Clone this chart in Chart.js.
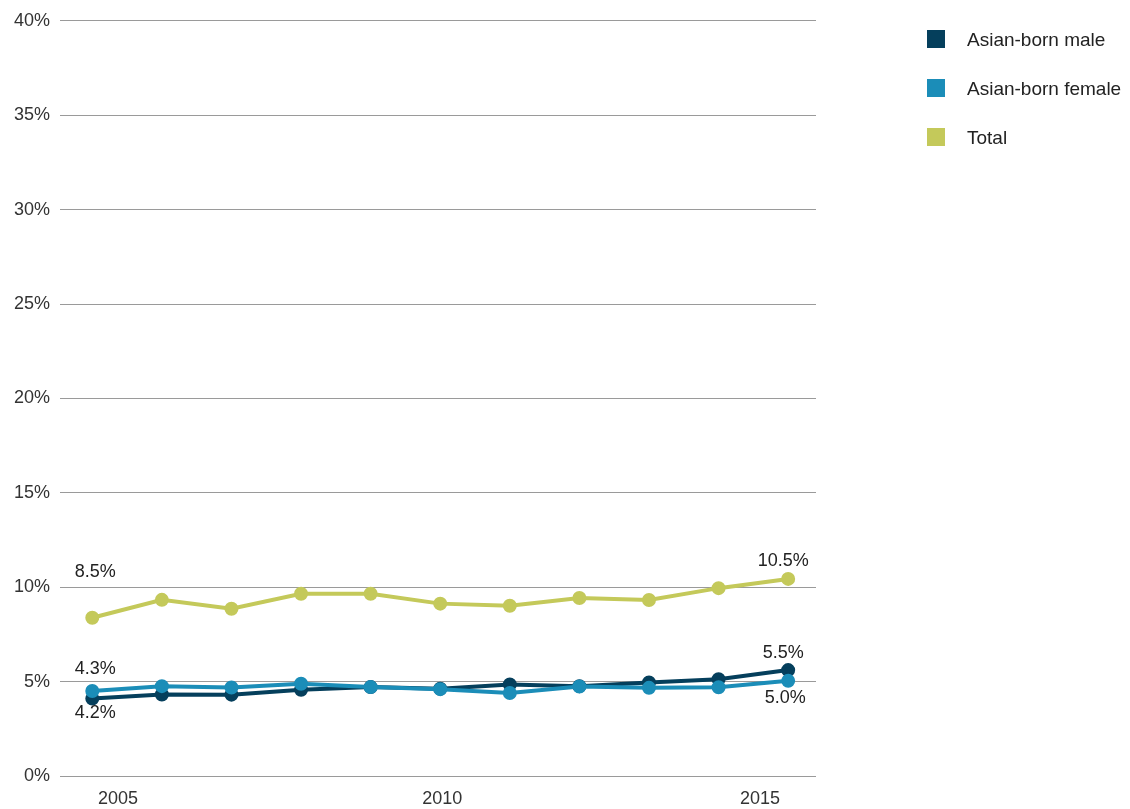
<!DOCTYPE html>
<html>
<head>
<meta charset="utf-8">
<script src="https://cdn.jsdelivr.net/npm/chart.js@4"></script>
<style>
  html, body { margin: 0; padding: 0; background: #fff; }
  #wrap { position: relative; width: 1130px; height: 809px; }
  #legend { position: absolute; left: 927px; top: 30px; font-family: "Liberation Sans", Arial, sans-serif; font-size: 19px; color: #222; }
  #legend div { position: relative; height: 49px; }
  #legend span.box { position: absolute; left: 0; top: 0; width: 18px; height: 18px; }
  #legend span.txt { position: absolute; left: 40px; top: -1px; white-space: nowrap; }
</style>
</head>
<body>
<div id="wrap">
  <canvas id="chart" width="1130" height="809"></canvas>
  <div id="legend"></div>
</div>
<script>
// data
var years = [2005, 2006, 2007, 2008, 2009, 2010, 2011, 2012, 2013, 2014, 2015];
var maleValues = [4.10, 4.32, 4.31, 4.57, 4.71, 4.62, 4.85, 4.76, 4.95, 5.13, 5.61];
var femaleValues = [4.50, 4.76, 4.69, 4.89, 4.71, 4.60, 4.40, 4.74, 4.67, 4.70, 5.04];
var totalValues = [8.38, 9.33, 8.86, 9.65, 9.65, 9.13, 9.02, 9.43, 9.32, 9.95, 10.44];
var seriesNames = ["Asian-born male", "Asian-born female", "Total"];
var xTickLabels = ["2005", "2010", "2015"];
var yTickValues = [0, 5, 10, 15, 20, 25, 30, 35, 40];
// end labels shown at first and last point of each line
var maleEndLabels = ["4.2%", "5.5%"];
var femaleEndLabels = ["4.3%", "5.0%"];
var totalEndLabels = ["8.5%", "10.5%"];

var colors = ["#053f5c", "#1b8db8", "#c4c95a"];
var fontFamily = '"Liberation Sans", Arial, sans-serif';

function toPoints(values) {
  return values.map(function (v, i) { return { x: years[i], y: v }; });
}

function lineDataset(label, values, color, order) {
  return {
    label: label,
    data: toPoints(values),
    borderColor: color,
    backgroundColor: color,
    pointBackgroundColor: color,
    pointBorderColor: color,
    borderWidth: 4,
    pointRadius: 5,
    pointHoverRadius: 5,
    tension: 0,
    order: order,
  };
}

// label placement (pixel offsets from the point)
var endLabelOffsets = [
  [{ dx: 3, dy: 14 }, { dx: -5, dy: -17 }],   // male
  [{ dx: 3, dy: -22 }, { dx: -3, dy: 17 }],   // female
  [{ dx: 3, dy: -46 }, { dx: -5, dy: -18 }],  // total
];
var endLabels = [maleEndLabels, femaleEndLabels, totalEndLabels];

var endLabelPlugin = {
  id: "endLabels",
  afterDatasetsDraw: function (chart) {
    var ctx = chart.ctx;
    ctx.save();
    ctx.font = "18px " + fontFamily;
    ctx.fillStyle = "#222";
    ctx.textAlign = "center";
    ctx.textBaseline = "middle";
    chart.data.datasets.forEach(function (ds, di) {
      var meta = chart.getDatasetMeta(di);
      var pts = [meta.data[0], meta.data[meta.data.length - 1]];
      pts.forEach(function (p, k) {
        var off = endLabelOffsets[di][k];
        ctx.fillText(endLabels[di][k], p.x + off.dx, p.y + off.dy);
      });
    });
    ctx.restore();
  },
};

var ctx = document.getElementById("chart").getContext("2d");
var chart = new Chart(ctx, {
  type: "line",
  data: {
    datasets: [
      lineDataset(seriesNames[0], maleValues, colors[0], 2),
      lineDataset(seriesNames[1], femaleValues, colors[1], 1),
      lineDataset(seriesNames[2], totalValues, colors[2], 3),
    ],
  },
  options: {
    responsive: false,
    animation: false,
    layout: { padding: { top: 19, right: 314, left: 0, bottom: 0 } },
    plugins: {
      legend: { display: false },
      tooltip: { enabled: false },
    },
    scales: {
      x: {
        type: "linear",
        min: 2004.536,
        max: 2015.4,
        grid: { display: false },
        border: { display: false },
        afterBuildTicks: function (scale) {
          // year labels sit slightly inside the first and last points
          scale.ticks = [{ value: 2005.37 }, { value: 2010.03 }, { value: 2014.595 }];
        },
        afterFit: function (scale) { scale.height = 33; },
        ticks: {
          autoSkip: false,
          maxRotation: 0,
          padding: 4,
          color: "#333",
          font: { family: fontFamily, size: 18 },
          callback: function (value, index) { return xTickLabels[index]; },
        },
      },
      y: {
        min: 0,
        max: 40,
        afterBuildTicks: function (scale) {
          scale.ticks = yTickValues.map(function (v) { return { value: v }; });
        },
        afterFit: function (scale) { scale.width = 60; },
        grid: { color: "#9a9a9a", lineWidth: 1, drawTicks: false },
        border: { display: false },
        ticks: {
          padding: 10,
          color: "#333",
          font: { family: fontFamily, size: 18 },
          callback: function (value) { return value + "%"; },
        },
      },
    },
  },
  plugins: [endLabelPlugin],
});

// legend
var legend = document.getElementById("legend");
seriesNames.forEach(function (name, i) {
  var row = document.createElement("div");
  row.innerHTML = '<span class="box" style="background:' + colors[i] + '"></span><span class="txt">' + name + "</span>";
  legend.appendChild(row);
});
</script>
</body>
</html>
